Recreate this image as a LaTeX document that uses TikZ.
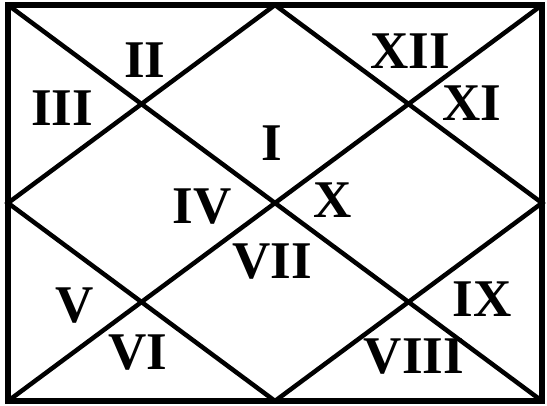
\documentclass[tikz,border=0pt]{standalone}
\usepackage{fontspec}
\setmainfont{Liberation Serif}

\begin{document}
\begin{tikzpicture}[x=1pt, y=-1pt, line width=4.5pt,
    house/.style={font=\fontsize{53}{53}\selectfont\bfseries, inner sep=0pt}]
  \useasboundingbox (0,0) rectangle (547,406);

  % Corners and edge midpoints
  \coordinate (tl) at (8,5);
  \coordinate (tr) at (542,5);
  \coordinate (br) at (542,401);
  \coordinate (bl) at (8,401);
  \coordinate (tm) at (275,5);
  \coordinate (rm) at (542,203);
  \coordinate (bm) at (275,401);
  \coordinate (lm) at (8,203);

  % Frame, diagonals and inner diamond
  \draw[line width=5.5pt] (tl) rectangle (br);
  \draw (tl) -- (br);
  \draw (tr) -- (bl);
  \draw (tm) -- (rm) -- (bm) -- (lm) -- cycle;

  % Houses
  \node[house] (h1) at (272,143) {I};
  \node[house] (h2) at (145,60) {II};
  \node[house] (h3) at (62,108) {III};
  \node[house] (h4) at (202,207) {IV};
  \node[house] (h5) at (75,306) {V};
  \node[house] (h6) at (138,353) {VI};
  \node[house] (h7) at (272,262) {VII};
  \node[house] (h8) at (414,357) {VIII};
  \node[house] (h9) at (482,299) {IX};
  \node[house] (h10) at (333,200) {X};
  \node[house] (h11) at (472,103) {XI};
  \node[house] (h12) at (410,51) {XII};
\end{tikzpicture}
\end{document}
